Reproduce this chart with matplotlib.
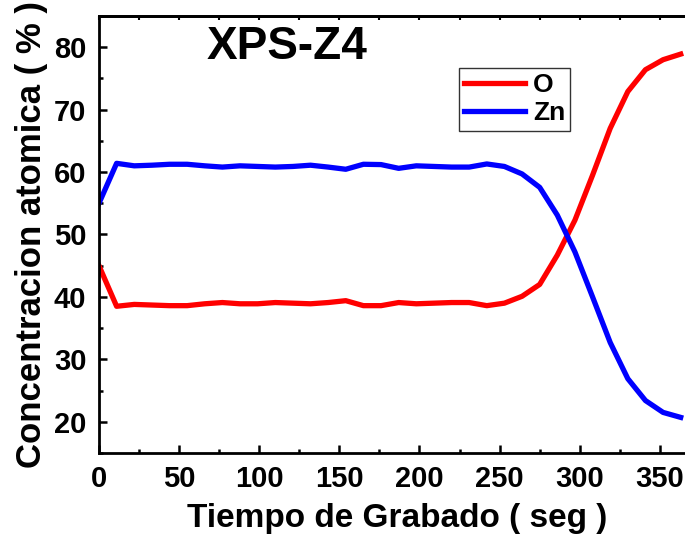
import numpy as np
import matplotlib.pyplot as plt
from matplotlib.ticker import MultipleLocator

# Perfil XPS de profundidad: tiempo de grabado vs concentracion atomica
tiempo = [0, 11, 22, 33, 44, 55, 66, 77, 88, 99, 110, 121, 132, 143, 154, 165, 176,
          187, 198, 209, 220, 231, 242, 253, 264, 275, 286, 297, 308, 319, 330, 341,
          352, 363]
oxigeno = [45.0, 38.5, 38.8, 38.7, 38.6, 38.6, 38.9, 39.1, 38.9, 38.9, 39.1, 39.0,
           38.9, 39.1, 39.4, 38.6, 38.6, 39.1, 38.9, 39.0, 39.1, 39.1, 38.6, 39.0,
           40.1, 42.0, 46.7, 52.3, 59.5, 67.0, 72.9, 76.4, 78.0, 78.9]
zinc = [55.0, 61.4, 61.0, 61.1, 61.25, 61.25, 61.0, 60.8, 61.0, 60.9, 60.8, 60.9,
        61.1, 60.8, 60.45, 61.25, 61.2, 60.6, 61.0, 60.9, 60.8, 60.8, 61.3, 60.9,
        59.7, 57.55, 53.1, 47.2, 40.0, 32.7, 26.9, 23.4, 21.5, 20.7]

plt.rcParams['font.family'] = ['Liberation Sans', 'DejaVu Sans']
plt.rcParams['font.weight'] = 'bold'

fig = plt.figure(figsize=(6.85, 5.41), dpi=100)
# el eje se extiende un poco fuera de la figura por la derecha
ax = fig.add_axes([0.1445, 0.1627, 0.889, 0.8077])

ax.plot(tiempo, oxigeno, color='#ff0000', lw=3.8, label='O')
ax.plot(tiempo, zinc, color='#0000ff', lw=3.8, label='Zn')

ax.set_xlim(0, 380)
ax.set_ylim(15, 85)
ax.xaxis.set_major_locator(MultipleLocator(50))
ax.xaxis.set_minor_locator(MultipleLocator(25))
ax.yaxis.set_major_locator(MultipleLocator(10))
ax.yaxis.set_minor_locator(MultipleLocator(5))

for s in ax.spines.values():
    s.set_linewidth(2.0)
ax.spines['right'].set_visible(False)

ax.tick_params(which='major', direction='in', length=6, width=1.8,
               labelsize=21, pad=9)
ax.tick_params(which='minor', direction='in', length=3, width=1.8)
ax.tick_params(top=False, right=False)
for lab in ax.get_xticklabels() + ax.get_yticklabels():
    lab.set_fontweight('bold')

# marcas pequeñas en el borde superior
sup = ax.secondary_xaxis('top')
sup.set_xticks(np.arange(0, 400, 25))
sup.set_xticklabels([])
sup.tick_params(direction='in', length=3, width=1.5)
sup.spines['top'].set_linewidth(2.0)

ax.set_xlabel('Tiempo de Grabado ( seg )', fontsize=24, fontweight='bold', labelpad=5)
ax.xaxis.set_label_coords(0.490, -0.115)
ax.set_ylabel('Concentracion atomica ( % )', fontsize=25, fontweight='bold', labelpad=4)

ax.text(67.4, 80.1, 'XPS-Z4', fontsize=33, fontweight='bold', ha='left', va='center')

leg = ax.legend(loc='upper left', bbox_to_anchor=(0.591, 0.881), fontsize=19,
                frameon=True, fancybox=False, framealpha=1, edgecolor='#333333',
                handlelength=2.3, handletextpad=0.3, borderpad=0.2, labelspacing=0.15,
                borderaxespad=0)
leg.get_frame().set_linewidth(1.0)
for t in leg.get_texts():
    t.set_fontweight('bold')

fig.savefig('out.png', dpi=100)
